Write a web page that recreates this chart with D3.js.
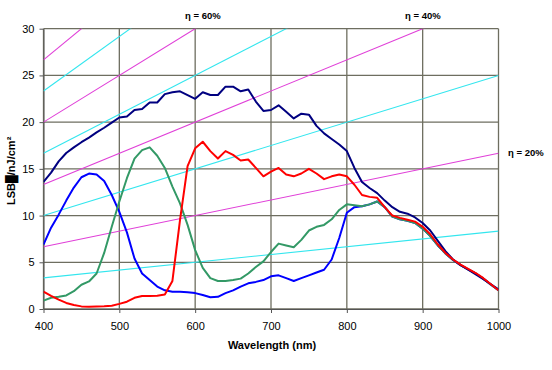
<!DOCTYPE html>
<html>
<head>
<meta charset="utf-8">
<script src="https://cdn.jsdelivr.net/npm/d3@7/dist/d3.min.js"></script>
<style>
  body { margin: 0; background: #fff; }
  svg { display: block; font-family: "Liberation Sans", Arial, sans-serif; }
</style>
</head>
<body>
<figure id="chart" style="margin:0"></figure>
<script>
// wavelength grid (nm)
const wavelengths = d3.range(400, 1001, 10);

// sensitivity curves, LSB/nJ/cm2, one value per wavelength
const navyValues = [13.6, 14.6, 15.8, 16.7, 17.3, 17.85, 18.35, 18.9, 19.4, 19.95,
  20.5, 20.6, 21.3, 21.4, 22.1, 22.1, 23.0, 23.2, 23.3, 22.9,
  22.5, 23.2, 22.9, 22.9, 23.8, 23.8, 23.3, 23.5, 22.2, 21.2,
  21.3, 21.8, 21.1, 20.4, 20.9, 20.8, 19.6, 18.8, 18.2, 17.6,
  16.9, 15.1, 13.6, 12.95, 12.4, 11.6, 10.9, 10.4, 10.2, 9.8,
  9.2, 8.4, 7.3, 6.2, 5.3, 4.7, 4.2, 3.7, 3.2, 2.65, 2.1];
const redValues = [1.85, 1.4, 1.0, 0.65, 0.42, 0.28, 0.25, 0.28, 0.3, 0.35,
  0.55, 0.78, 1.2, 1.4, 1.4, 1.42, 1.55, 3.0, 9.5, 15.3,
  17.2, 17.9, 16.9, 16.1, 16.9, 16.5, 15.9, 16.0, 15.1, 14.2,
  14.7, 15.1, 14.4, 14.2, 14.5, 15.0, 14.5, 13.9, 14.2, 14.4,
  14.2, 13.3, 12.2, 12.0, 11.9, 10.9, 10.0, 9.75, 9.55, 9.35,
  8.8, 8.0, 6.9, 6.0, 5.3, 4.75, 4.3, 3.85, 3.3, 2.65, 2.0];
const greenValues = [0.9, 1.2, 1.3, 1.45, 1.9, 2.6, 2.95, 3.8, 6.0, 8.8,
  11.5, 14.0, 16.1, 17.0, 17.3, 16.4, 15.1, 13.1, 11.3, 9.0,
  6.3, 4.4, 3.3, 3.0, 3.0, 3.1, 3.25, 3.8, 4.5, 5.1,
  6.1, 7.0, 6.8, 6.6, 7.4, 8.4, 8.8, 9.0, 9.6, 10.6,
  11.2, 11.1, 11.0, 11.2, 11.5, 10.9, 9.9, 9.6, 9.45, 9.2,
  8.6, 7.8, 6.8, 5.95, 5.25, 4.7, 4.25, 3.8, 3.25, 2.6, 2.0];
const blueValues = [6.9, 8.7, 10.1, 11.6, 13.0, 14.1, 14.5, 14.4, 13.7, 12.2,
  10.4, 8.2, 5.4, 3.8, 3.1, 2.4, 2.0, 1.85, 1.85, 1.8,
  1.7, 1.5, 1.25, 1.3, 1.7, 2.0, 2.4, 2.75, 2.9, 3.1,
  3.5, 3.6, 3.3, 3.0, 3.3, 3.6, 3.9, 4.2, 5.3, 7.6,
  10.3, 10.9, 11.0, 11.2, 11.5, 10.9, 9.9, 9.6, 9.45, 9.2,
  8.6, 7.8, 6.8, 5.95, 5.25, 4.7, 4.25, 3.8, 3.25, 2.6, 2.0];

// constant quantum efficiency guide lines: value at 400 nm and at 1000 nm
const etaLevels = [10, 20, 30, 40, 50, 60, 70, 80];
const etaAt400 = [3.33, 6.67, 10, 13.33, 16.67, 20, 23.33, 26.67];
const etaAt1000 = [8.33, 16.67, 25, 33.33, 41.67, 50, 58.33, 66.67];
const etaLabels = [
  { level: 60, text: "η = 60%" },
  { level: 40, text: "η = 40%" },
  { level: 20, text: "η = 20%" }
];

const xTicks = [400, 500, 600, 700, 800, 900, 1000];
const yTicks = [0, 5, 10, 15, 20, 25, 30];

const W = 552, H = 370;
const margin = { left: 43.5, right: 53.5, top: 28.7, bottom: 61 };
const width = W - margin.left - margin.right;
const height = H - margin.top - margin.bottom;

const svg = d3.select("figure#chart").append("svg")
  .attr("width", W)
  .attr("height", H);

const g = svg.append("g")
  .attr("transform", "translate(" + margin.left + "," + margin.top + ")");

const x = d3.scaleLinear().domain([400, 1000]).range([0, width]);
const y = d3.scaleLinear().domain([0, 30]).range([height, 0]);

svg.append("defs").append("clipPath").attr("id", "plotclip")
  .append("rect").attr("width", width).attr("height", height);

// grid
g.append("g").selectAll("line").data(yTicks).enter().append("line")
  .attr("x1", 0).attr("x2", width)
  .attr("y1", d => y(d)).attr("y2", d => y(d))
  .attr("stroke", "#6e6e60").attr("stroke-width", 1.3);
g.append("g").selectAll("line").data(xTicks).enter().append("line")
  .attr("y1", 0).attr("y2", height)
  .attr("x1", d => x(d)).attr("x2", d => x(d))
  .attr("stroke", "#6e6e60").attr("stroke-width", 1.3);

// axes
const xAxis = g.append("g")
  .attr("transform", "translate(0," + height + ")")
  .call(d3.axisBottom(x).tickValues(xTicks).tickFormat(d3.format("d")).tickSize(4).tickSizeOuter(0));
const yAxis = g.append("g")
  .call(d3.axisLeft(y).tickValues(yTicks).tickSize(4).tickSizeOuter(0));
[xAxis, yAxis].forEach(a => {
  a.select(".domain").attr("stroke", "#555");
  a.selectAll(".tick line").attr("stroke", "#555");
  a.selectAll("text").attr("fill", "#000").style("font-size", "11px")
    .style("font-family", "'Liberation Sans', Arial, sans-serif");
});
xAxis.selectAll("text").attr("dy", "1.25em");
yAxis.selectAll("text").attr("dx", "-2");

// efficiency lines
const etaGroup = g.append("g").attr("clip-path", "url(#plotclip)");
etaGroup.selectAll("line").data(etaLevels).enter().append("line")
  .attr("x1", x(400)).attr("x2", x(1000))
  .attr("y1", (d, i) => y(etaAt400[i]))
  .attr("y2", (d, i) => y(etaAt1000[i]))
  .attr("stroke", (d, i) => i % 2 === 0 ? "#33e6ee" : "#e040d8")
  .attr("stroke-width", 1.1);

// sensitivity curves
const line = d3.line()
  .x((d, i) => x(wavelengths[i]))
  .y(d => y(d));

const series = [
  { values: blueValues, color: "#0000ff" },
  { values: greenValues, color: "#339966" },
  { values: navyValues, color: "#000080" },
  { values: redValues, color: "#ff0000" }
];
g.append("g").attr("clip-path", "url(#plotclip)")
  .selectAll("path").data(series).enter().append("path")
  .attr("d", d => line(d.values))
  .attr("fill", "none")
  .attr("stroke", d => d.color)
  .attr("stroke-width", 2)
  .attr("stroke-linejoin", "round");

// eta labels
const labelPos = { 60: [185, 19], 40: [405, 19], 20: [508, 156] };
svg.append("g").selectAll("text").data(etaLabels).enter().append("text")
  .attr("x", d => labelPos[d.level][0])
  .attr("y", d => labelPos[d.level][1])
  .attr("font-size", "9.5px")
  .attr("font-weight", "bold")
  .text(d => d.text);

// axis titles
svg.append("text")
  .attr("x", margin.left + width / 2 + 1)
  .attr("y", 349)
  .attr("text-anchor", "middle")
  .attr("font-size", "11px")
  .attr("font-weight", "bold")
  .text("Wavelength (nm)");

svg.append("text")
  .attr("transform", "translate(15," + (margin.top + height / 2 + 2) + ") rotate(-90)")
  .attr("text-anchor", "middle")
  .attr("font-size", "11px")
  .attr("font-weight", "bold")
  .text("LSB█/nJ/cm²");
</script>
</body>
</html>
